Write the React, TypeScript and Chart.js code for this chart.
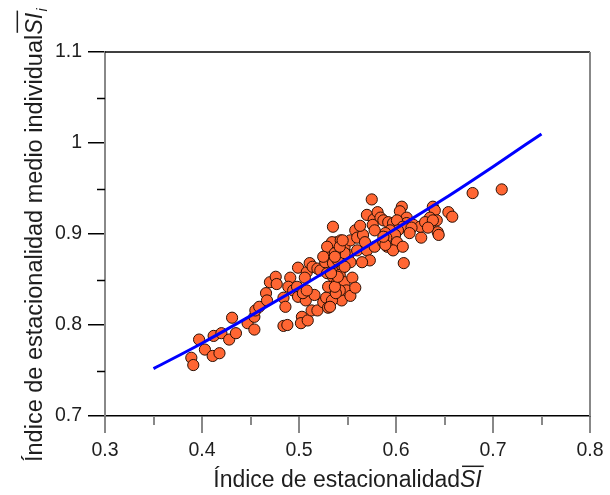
import React, { useEffect, useRef } from "react";
import { Chart, registerables } from "chart.js";

Chart.register(...registerables);

const xMinorTicks = [0.35, 0.45, 0.55, 0.65, 0.75];
const yMinorTicks = [0.75, 0.85, 0.95, 1.05];

const xTitle = "Índice de estacionalidad";
const yTitle = "Índice de estacionalidad medio individual";
const siLabel = "SI";
const subLabel = "i";

const siX = [
  0.389, 0.391, 0.397, 0.403, 0.411, 0.418, 0.412, 0.42, 0.428, 0.431,
  0.435, 0.447, 0.454, 0.454, 0.455, 0.459, 0.466, 0.467, 0.47, 0.476,
  0.477, 0.484, 0.488, 0.484, 0.486, 0.491, 0.489, 0.494, 0.499, 0.498,
  0.499, 0.503, 0.502, 0.509, 0.508, 0.506, 0.511, 0.514, 0.519, 0.507,
  0.513, 0.516, 0.519, 0.525, 0.528, 0.53, 0.504, 0.508, 0.522, 0.529,
  0.535, 0.539, 0.54, 0.53, 0.539, 0.527, 0.53, 0.535, 0.539, 0.534,
  0.529, 0.535, 0.543, 0.547, 0.551, 0.553, 0.545, 0.542, 0.547, 0.555,
  0.549, 0.544, 0.553, 0.558, 0.534, 0.532, 0.542, 0.538, 0.537, 0.54,
  0.533, 0.535, 0.54, 0.547, 0.547, 0.537, 0.542, 0.553, 0.545, 0.558,
  0.56, 0.56, 0.57, 0.578, 0.573, 0.565, 0.575, 0.57, 0.577, 0.581,
  0.584, 0.606, 0.604, 0.611, 0.611, 0.638, 0.64, 0.635, 0.642, 0.635,
  0.654, 0.658, 0.679, 0.709, 0.643, 0.644, 0.626, 0.618, 0.614, 0.625,
  0.63, 0.587, 0.592, 0.597, 0.601, 0.607, 0.616, 0.602, 0.594, 0.589,
  0.599, 0.59, 0.587, 0.601, 0.591, 0.597, 0.607, 0.614, 0.638, 0.633,
  0.608, 0.589, 0.576, 0.578, 0.587, 0.566, 0.568, 0.563, 0.525, 0.537,
];

const siIndividual = [
  0.764, 0.756, 0.784, 0.773, 0.766, 0.769, 0.788, 0.791, 0.784, 0.808,
  0.791, 0.802, 0.809, 0.795, 0.816, 0.82, 0.835, 0.827, 0.847, 0.853,
  0.845, 0.799, 0.8, 0.83, 0.82, 0.852, 0.842, 0.838, 0.863, 0.842,
  0.831, 0.809, 0.802, 0.805, 0.858, 0.852, 0.868, 0.864, 0.862, 0.827,
  0.816, 0.833, 0.816, 0.825, 0.83, 0.819, 0.835, 0.838, 0.86, 0.857,
  0.853, 0.846, 0.835, 0.842, 0.864, 0.869, 0.879, 0.885, 0.891, 0.891,
  0.886, 0.908, 0.893, 0.886, 0.877, 0.869, 0.863, 0.855, 0.847, 0.852,
  0.838, 0.827, 0.832, 0.841, 0.827, 0.82, 0.838, 0.835, 0.842, 0.853,
  0.857, 0.868, 0.871, 0.864, 0.879, 0.879, 0.886, 0.893, 0.893, 0.904,
  0.896, 0.882, 0.882, 0.886, 0.871, 0.869, 0.938, 0.921, 0.916, 0.924,
  0.918, 0.93, 0.925, 0.918, 0.912, 0.93, 0.926, 0.918, 0.915, 0.91,
  0.924, 0.919, 0.945, 0.949, 0.902, 0.899, 0.896, 0.91, 0.904, 0.908,
  0.913, 0.915, 0.913, 0.912, 0.915, 0.908, 0.907, 0.904, 0.904, 0.901,
  0.899, 0.896, 0.891, 0.891, 0.886, 0.882, 0.886, 0.901, 0.915, 0.907,
  0.868, 0.888, 0.91, 0.904, 0.897, 0.899, 0.891, 0.909, 0.875, 0.875,
];

const fitX = [0.35, 0.4, 0.45, 0.5, 0.55, 0.6, 0.65, 0.7, 0.75];
const fitY = [0.752, 0.78, 0.81, 0.841, 0.873, 0.906, 0.939, 0.974, 1.01];

const FONT = '"Liberation Sans", Arial, sans-serif';
const GRAY = "#888888";
const TEXT = "#1e1e1e";

const decorPlugin = {
  id: "decor",
  afterDraw(chart: any) {
    const ctx = chart.ctx as CanvasRenderingContext2D;
    const { left, right, top, bottom } = chart.chartArea;
    const xs = chart.scales.x;
    const ys = chart.scales.y;
    ctx.save();
    ctx.strokeStyle = "#000";
    ctx.lineWidth = 1.5;
    ctx.beginPath();
    ctx.moveTo(left, top);
    ctx.lineTo(right, top);
    ctx.stroke();
    ctx.strokeStyle = GRAY;
    ctx.lineWidth = 2;
    ctx.beginPath();
    ctx.moveTo(right, top);
    ctx.lineTo(right, bottom);
    ctx.stroke();
    ctx.strokeStyle = GRAY;
    ctx.lineWidth = 2;
    for (const v of xMinorTicks) {
      const px = Math.round(xs.getPixelForValue(v));
      ctx.beginPath();
      ctx.moveTo(px, bottom);
      ctx.lineTo(px, bottom + 9);
      ctx.stroke();
    }
    ctx.strokeStyle = "#000";
    ctx.lineWidth = 1.5;
    for (const v of yMinorTicks) {
      const py = Math.round(ys.getPixelForValue(v)) + 0.5;
      ctx.beginPath();
      ctx.moveTo(left, py);
      ctx.lineTo(left - 8, py);
      ctx.stroke();
    }
    ctx.fillStyle = TEXT;
    ctx.textBaseline = "alphabetic";
    ctx.textAlign = "left";
    const xs1 = 23;
    ctx.font = `${xs1}px ${FONT}`;
    const w1 = ctx.measureText(xTitle).width;
    ctx.font = `italic ${xs1}px ${FONT}`;
    const w2 = ctx.measureText(siLabel).width;
    const cx = (left + right) / 2;
    const sx = cx - (w1 + w2) / 2;
    const by = 487;
    ctx.font = `${xs1}px ${FONT}`;
    ctx.fillText(xTitle, sx, by);
    ctx.font = `italic ${xs1}px ${FONT}`;
    ctx.fillText(siLabel, sx + w1, by);
    ctx.strokeStyle = TEXT;
    ctx.lineWidth = 1.5;
    ctx.beginPath();
    ctx.moveTo(sx + w1 + 2, by - xs1 * 0.9);
    ctx.lineTo(sx + w1 + w2 + 2, by - xs1 * 0.9);
    ctx.stroke();
    const ysz = 23.5;
    ctx.save();
    ctx.translate(42, 462);
    ctx.rotate(-Math.PI / 2);
    ctx.font = `${ysz}px ${FONT}`;
    const v1 = ctx.measureText(yTitle).width;
    ctx.fillText(yTitle, 0, 0);
    ctx.font = `italic ${ysz}px ${FONT}`;
    const v2 = ctx.measureText(siLabel).width;
    ctx.fillText(siLabel, v1, 0);
    ctx.beginPath();
    ctx.moveTo(v1 + 2, -ysz * 1.05);
    ctx.lineTo(v1 + v2 + 2, -ysz * 1.05);
    ctx.stroke();
    ctx.font = `italic ${ysz * 0.6}px ${FONT}`;
    ctx.fillText(subLabel, v1 + v2 + 1, ysz * 0.2);
    ctx.restore();
    ctx.restore();
  },
};

export default function App() {
  const ref = useRef<HTMLCanvasElement | null>(null);
  useEffect(() => {
    if (!ref.current) return;
    const fmt = (v: any) => String(Math.round(Number(v) * 100) / 100);
    const chart = new Chart(ref.current, {
      type: "scatter",
      data: {
        datasets: [
          {
            type: "line",
            label: "fit",
            data: fitX.map((x, i) => ({ x, y: fitY[i] })),
            borderColor: "#0000ff",
            borderWidth: 3,
            pointRadius: 0,
            fill: false,
            tension: 0.4,
            cubicInterpolationMode: "monotone",
            order: 0,
          } as any,
          {
            label: "SI",
            data: siX.map((x, i) => ({ x, y: siIndividual[i] })),
            backgroundColor: "#ff6633",
            borderColor: "#2a1005",
            borderWidth: 1,
            pointRadius: 5.6,
            order: 1,
          },
        ],
      },
      options: {
        responsive: false,
        animation: false,
        events: [],
        layout: { padding: { left: 0, top: 52, right: 20, bottom: 0 } },
        plugins: { legend: { display: false }, tooltip: { enabled: false } },
        scales: {
          x: {
            type: "linear",
            min: 0.3,
            max: 0.8,
            afterFit: (s: any) => {
              s.height = 79;
            },
            ticks: {
              stepSize: 0.1,
              callback: fmt,
              color: TEXT,
              padding: 6,
              font: { family: FONT, size: 19.5 },
              maxRotation: 0,
            },
            grid: {
              drawOnChartArea: false,
              drawTicks: true,
              tickLength: 17,
              color: GRAY,
              tickColor: GRAY,
              lineWidth: 2,
            },
            border: { display: true, color: "#000", width: 1.5 },
          },
          y: {
            type: "linear",
            min: 0.7,
            max: 1.1,
            afterFit: (s: any) => {
              s.width = 105;
            },
            ticks: {
              stepSize: 0.1,
              callback: fmt,
              color: TEXT,
              padding: 6,
              font: { family: FONT, size: 19.5 },
            },
            grid: {
              drawOnChartArea: false,
              drawTicks: true,
              tickLength: 17,
              color: "#000",
              tickColor: "#000",
              lineWidth: 1.5,
            },
            border: { display: true, color: GRAY, width: 2 },
          },
        },
      },
      plugins: [decorPlugin],
    });
    return () => chart.destroy();
  }, []);
  return (
    <canvas
      ref={ref}
      width={610}
      height={495}
      style={{ position: "absolute", left: 0, top: 0, width: 610, height: 495, background: "#fff" }}
    />
  );
}
